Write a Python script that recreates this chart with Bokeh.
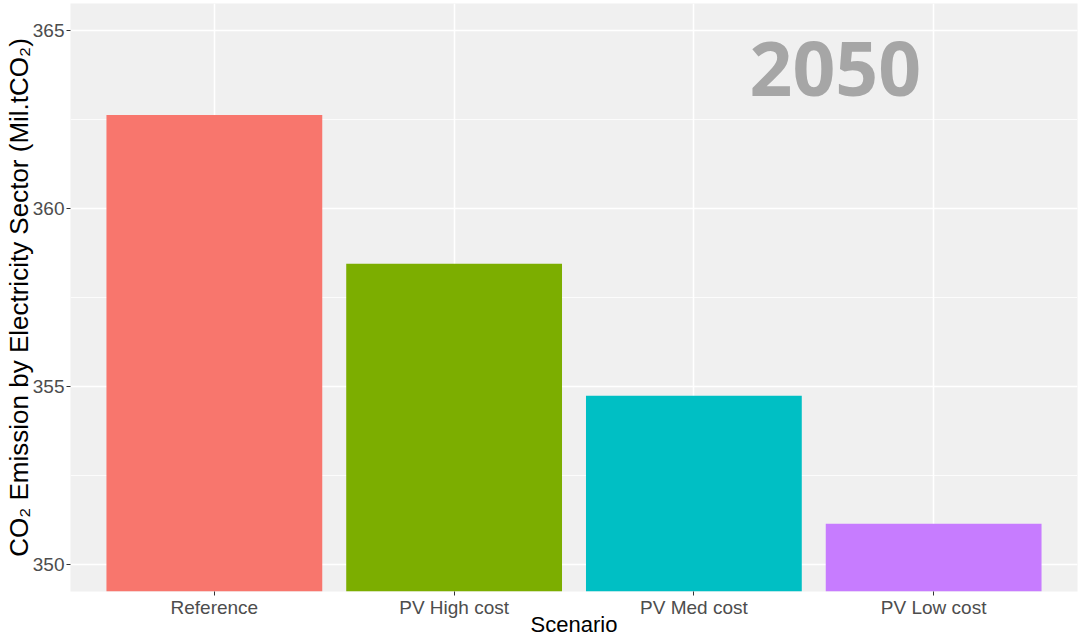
from bokeh.plotting import figure
from bokeh.models import ColumnDataSource, Range1d, FactorRange, SingleIntervalTicker, Label
from bokeh.embed import file_html
from bokeh.resources import INLINE

scenarios = ["Reference", "PV High cost", "PV Med cost", "PV Low cost"]
emissions = [362.62, 358.45, 354.74, 351.15]
colors = ["#F8766D", "#7CAE00", "#00BFC4", "#C77CFF"]
y_ticks_interval = 5
year_label = "2050"
x_title = "Scenario"
y_title = "CO\u2082 Emission by Electricity Sector (Mil.tCO\u2082)"

src = ColumnDataSource(dict(x=scenarios, top=emissions, color=colors))

p = figure(width=1081, height=639, output_backend="svg", toolbar_location=None,
           x_range=FactorRange(*scenarios, range_padding=0.1, range_padding_units="absolute"),
           y_range=Range1d(349.25, 365.75),
           min_border_left=70, min_border_right=4, min_border_top=3, min_border_bottom=47)

p.vbar(x="x", top="top", bottom=340, width=0.9, color="color", source=src, line_color=None)

p.background_fill_color = "#F0F0F0"
p.border_fill_color = "white"
p.outline_line_color = None

p.yaxis.ticker = SingleIntervalTicker(interval=y_ticks_interval, num_minor_ticks=2)
for ax in (p.xaxis[0], p.yaxis[0]):
    ax.axis_line_color = None
    ax.major_tick_in = 0
    ax.major_tick_out = 4
    ax.major_tick_line_color = "#333333"
    ax.minor_tick_line_color = None
    ax.major_label_text_font = "Liberation Sans"
    ax.major_label_text_font_size = "19px"
    ax.major_label_text_color = "#4D4D4D"
    ax.axis_label_text_font = "Liberation Sans"
    ax.axis_label_text_font_style = "normal"
    ax.axis_label_text_color = "black"

p.xaxis.major_label_standoff = 1
p.xaxis.axis_label = x_title
p.xaxis.axis_label_text_font_size = "22px"
p.xaxis.axis_label_standoff = -9
p.yaxis.major_label_standoff = 2
p.yaxis.axis_label = y_title
p.yaxis.axis_label_text_font_size = "26px"
p.yaxis.axis_label_standoff = -4

p.ygrid.grid_line_color = "white"
p.ygrid.grid_line_width = 1.6
p.ygrid.minor_grid_line_color = "white"
p.ygrid.minor_grid_line_width = 0.8
p.xgrid.grid_line_color = "white"
p.xgrid.grid_line_width = 1.6

p.add_layout(Label(x=3.09, y=363.9, text=year_label, text_align="center", text_baseline="middle",
                   text_font="Open Sans", text_font_style="bold", text_font_size="75px",
                   text_color="#A6A6A6"))

open("out.html", "w").write(file_html(p, INLINE))
